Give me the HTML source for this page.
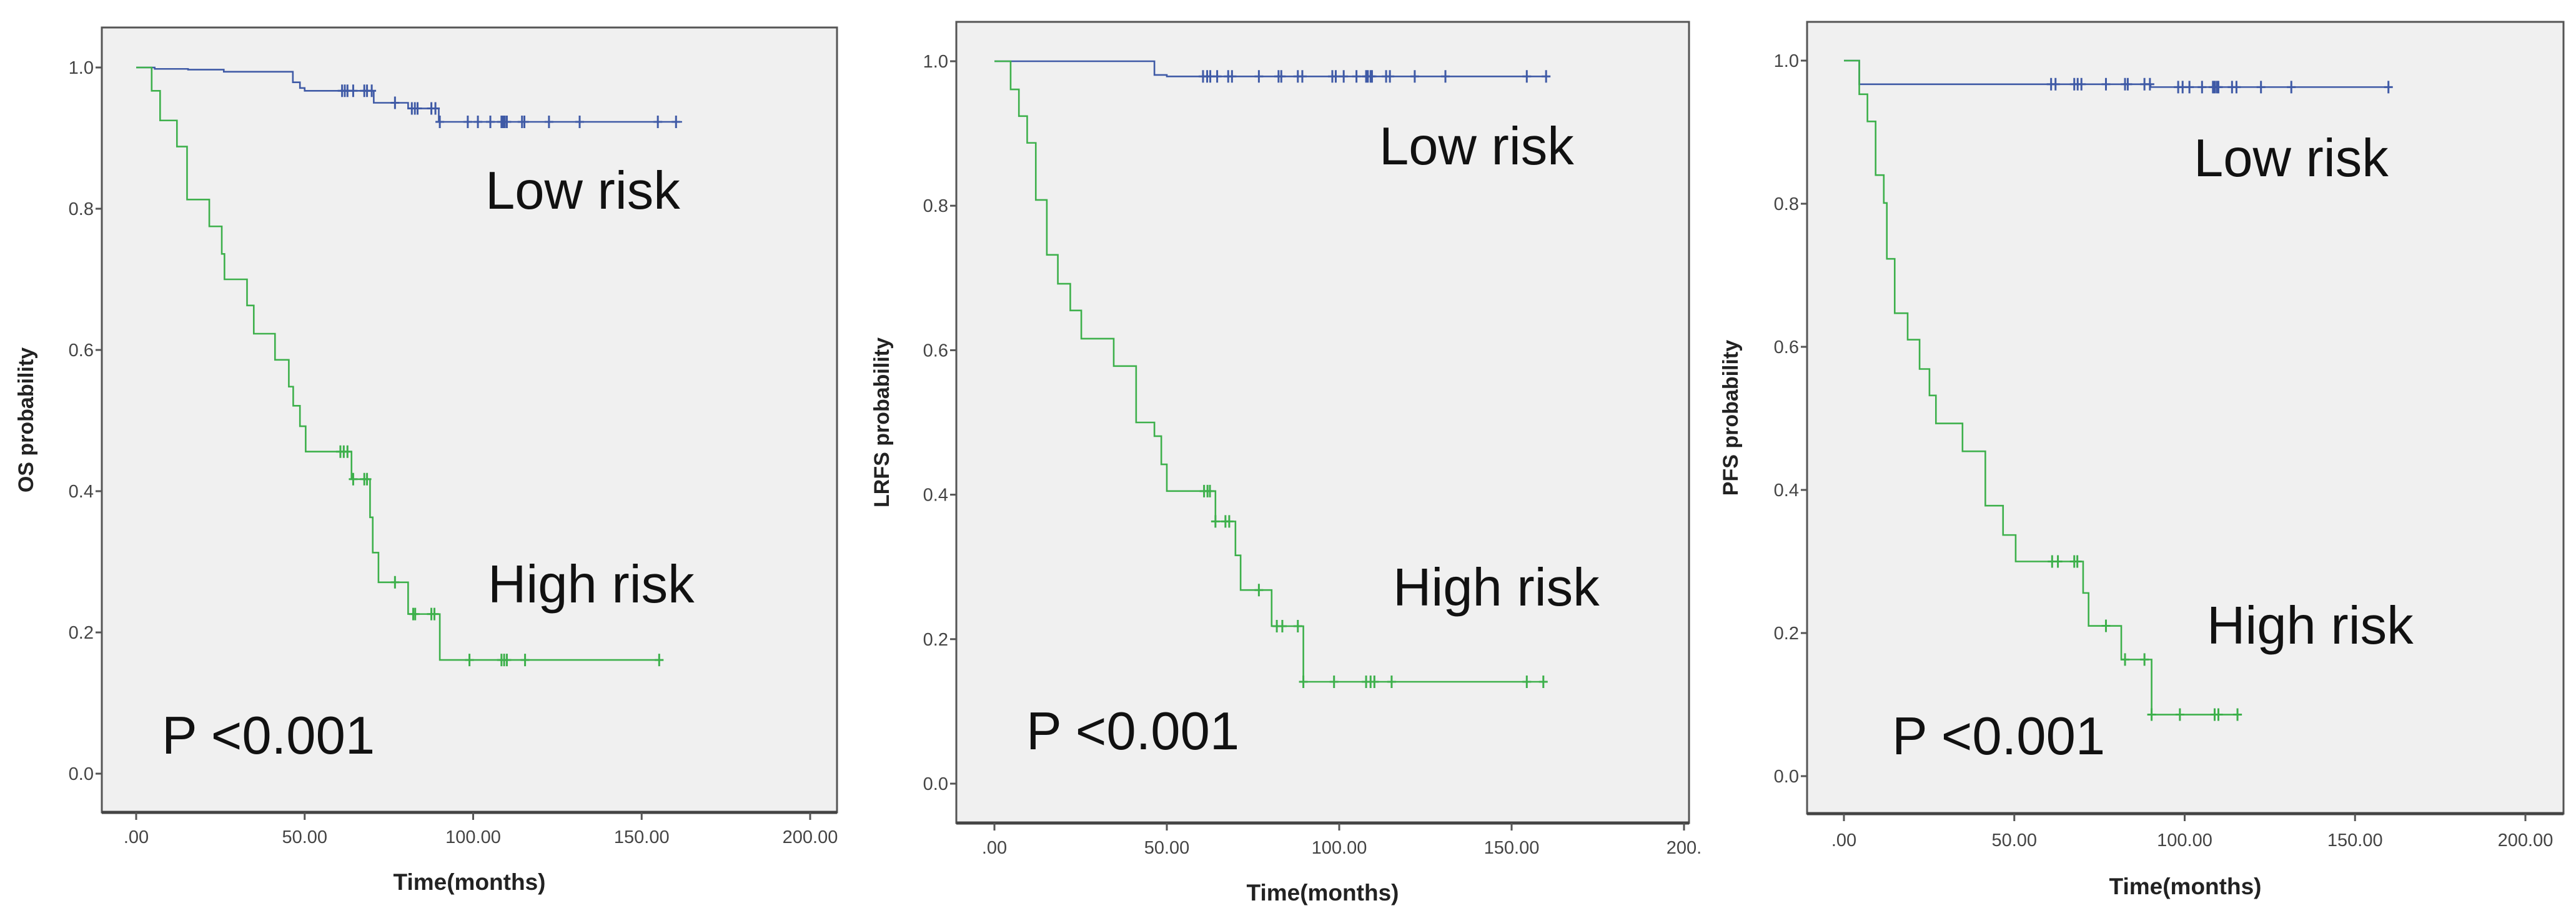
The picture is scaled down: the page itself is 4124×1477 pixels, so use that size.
<!DOCTYPE html>
<html><head><meta charset="utf-8"><style>
html,body{margin:0;padding:0;background:#fff;}
svg{display:block;}
</style></head><body>
<svg id="fig" width="4124" height="1477" viewBox="0 0 4124 1477" xmlns="http://www.w3.org/2000/svg"></svg>
<script>
// ---------- Data ----------
const xTicks = [0, 50, 100, 150, 200];
const xTickLabels = [".00", "50.00", "100.00", "150.00", "200.00"];
const xTickLabelsP2 = [".00", "50.00", "100.00", "150.00", "200."];
const yTicks = [0, 0.2, 0.4, 0.6, 0.8, 1.0];
const yTickLabels = ["0.0", "0.2", "0.4", "0.6", "0.8", "1.0"];

// OS
const osLowT = [0, 5.5, 15.4, 26, 46.5, 48.6, 50, 70.5, 80.7, 89.8, 162];
const osLowS = [1.0, 0.998, 0.997, 0.994, 0.979, 0.971, 0.967, 0.95, 0.942, 0.923, 0.923];
const osLowCens = [61.1,61.9,62.7,64.4,67.7,68.5,69.9,76.8,81.8,82.7,83.5,87.6,88.8,90.1,98.4,101.4,105.1,108.4,108.9,109.4,110.0,114.5,115.2,122.5,131.6,154.8,160.2];
const osHighT = [0, 4.6, 7.1, 12.1, 15.1, 21.7, 25.4, 26.2, 32.9, 34.9, 41.2, 45.3, 46.6, 48.6, 50.3, 63.9, 69.4, 70.2, 71.9, 80.7, 90.1, 155.2];
const osHighS = [1.0, 0.967, 0.925, 0.888, 0.813, 0.775, 0.736, 0.700, 0.663, 0.623, 0.586, 0.548, 0.521, 0.492, 0.456, 0.417, 0.363, 0.313, 0.271, 0.226, 0.161, 0.161];
const osHighCens = [60.6,61.6,62.7,64.4,67.7,68.5,76.8,82.2,82.8,87.6,88.5,98.9,108.4,109.2,110.0,115.4,155.2];

// LRFS
const lrfsLowT = [0, 46.4, 50, 161];
const lrfsLowS = [1.0, 0.981, 0.979, 0.979];
const lrfsLowCens = [60.5,61.7,62.6,64.6,67.8,68.9,76.7,82.4,83.2,88.0,89.3,98.0,99.0,101.3,105.0,107.8,108.3,109.1,109.5,113.6,114.7,121.9,130.8,154.4,160.0];
const lrfsHighT = [0, 4.7, 7.1, 9.5, 12, 15.2, 18.4, 22, 25.2, 34.6, 41.1, 46.4, 48.4, 50, 64.1, 69.9, 71.4, 80.4, 89.6, 160];
const lrfsHighS = [1.0, 0.961, 0.924, 0.887, 0.808, 0.732, 0.692, 0.655, 0.616, 0.578, 0.5, 0.481, 0.442, 0.405, 0.363, 0.316, 0.268, 0.218, 0.141, 0.141];
const lrfsHighCens = [60.8,61.8,62.5,64.1,67,68.1,76.7,81.9,83.5,88,89.6,98.5,107.8,109.1,110.2,115.2,154.4,159.2];

// PFS
const pfsLowT = [0, 4.5, 90, 160.6];
const pfsLowS = [1.0, 0.967, 0.963, 0.963];
const pfsLowCens = [60.8,62.1,67.6,68.6,69.7,76.9,82.5,83.3,88.2,89.8,98.1,99.4,101.4,105.1,108.3,108.8,109.4,109.9,113.9,115.2,122.4,131.3,159.8];
const pfsHighT = [0, 4.5, 6.9, 9.3, 11.7, 12.6, 14.9, 18.7, 22.2, 25.1, 27, 34.8, 41.5, 46.7, 50.4, 70.2, 71.8, 81.4, 90.3, 116.8];
const pfsHighS = [1.0, 0.953, 0.915, 0.840, 0.801, 0.723, 0.647, 0.610, 0.569, 0.532, 0.493, 0.454, 0.378, 0.337, 0.300, 0.256, 0.21, 0.163, 0.086, 0.086];
const pfsHighCens = [61.1,62.8,67.6,68.5,76.9,82.5,88.2,90.3,98.6,108.8,109.9,115.5];

// ---------- Layout ----------
const panels = [
 {name:"os", ylabel:"OS probability", box:[163,44,1340,1300], x0:218, x200:1297, y0:1238, y1:108,
  ytitleX:40, xtitleY:1424, xlabY:1349, xl:xTickLabels, lowPos:[777,334], highPos:[781,964], pPos:[259,1206],
  low:[osLowT,osLowS,osLowCens], high:[osHighT,osHighS,osHighCens]},
 {name:"lrfs", ylabel:"LRFS probability", box:[1531,35,2704,1317], x0:1592, x200:2696, y0:1254, y1:98,
  ytitleX:1410, xtitleY:1441, xlabY:1366, xl:xTickLabelsP2, lowPos:[2208,263], highPos:[2230,969], pPos:[1643,1199],
  low:[lrfsLowT,lrfsLowS,lrfsLowCens], high:[lrfsHighT,lrfsHighS,lrfsHighCens]},
 {name:"pfs", ylabel:"PFS probability", box:[2893,35,4104,1302], x0:2952, x200:4043, y0:1242, y1:97,
  ytitleX:2769, xtitleY:1431, xlabY:1354, xl:xTickLabels, lowPos:[3512,282], highPos:[3533,1030], pPos:[3029,1207],
  low:[pfsLowT,pfsLowS,pfsLowCens], high:[pfsHighT,pfsHighS,pfsHighCens]}
];

const NS = "http://www.w3.org/2000/svg";
const svg = document.getElementById("fig");
function mk(tag, attrs, parent){
  const e = document.createElementNS(NS, tag);
  for (const k in attrs) e.setAttribute(k, attrs[k]);
  (parent||svg).appendChild(e);
  return e;
}
function stepValue(T, S, t){
  let v = S[0];
  for (let i=0;i<T.length;i++){ if (T[i] <= t) v = S[i]; }
  return v;
}

panels.forEach(p => {
  const xs = t => p.x0 + (p.x200 - p.x0) * t / 200;
  const ys = s => p.y0 - (p.y0 - p.y1) * s;
  const g = mk("g", {});
  
  
  const [L,T,R,B] = p.box;
  const bg = mk("rect", {x:L, y:T, width:R-L, height:B-T, fill:"#f0f0f0", stroke:"#555", "stroke-width":3}, g);
  
  
  mk("line", {x1:L, x2:R, y1:B, y2:B, stroke:"#444", "stroke-width":5}, g);

  yTicks.forEach((v,i) => {
    const y = ys(v);
    mk("line", {x1:L-10, x2:L, y1:y, y2:y, stroke:"#555", "stroke-width":3}, g);
    const tx = mk("text", {x:L-13, y:y+10, "text-anchor":"end", "font-family":"Liberation Sans, sans-serif", "font-size":29, fill:"#444"}, g);
    tx.textContent = yTickLabels[i];
    
    
  });
  xTicks.forEach((v,i) => {
    const x = xs(v);
    mk("line", {x1:x, x2:x, y1:B, y2:B+12, stroke:"#555", "stroke-width":3}, g);
    const tx = mk("text", {x:x, y:p.xlabY, "text-anchor":"middle", "font-family":"Liberation Sans, sans-serif", "font-size":29, fill:"#444"}, g);
    tx.textContent = p.xl[i];
    
    
  });
  const xt = mk("text", {x:(L+R)/2, y:p.xtitleY, "text-anchor":"middle", "font-family":"Liberation Sans, sans-serif", "font-size":37, "font-weight":"bold", fill:"#222"}, g);
  xt.textContent = "Time(months)";
  
  
  const cy = (T+B)/2;
  const yt = mk("text", {x:p.ytitleX+13, y:cy, "text-anchor":"middle", "font-family":"Liberation Sans, sans-serif", "font-size":34, "font-weight":"bold", fill:"#222", transform:`rotate(-90 ${p.ytitleX+13} ${cy})`}, g);
  yt.textContent = p.ylabel;
  
  

  [["low", "#3f5aa6"], ["high", "#3db04b"]].forEach(([key, col]) => {
    const [Ts, Ss, C] = p[key];
    let d = `M${xs(Ts[0])},${ys(Ss[0])}`;
    for (let i=1;i<Ts.length;i++){
      d += ` H${xs(Ts[i])} V${ys(Ss[i])}`;
    }
    const path = mk("path", {d:d, fill:"none", stroke:col, "stroke-width":2.6}, g);
    
    
    C.forEach(t => {
      const x = xs(t), y = ys(stepValue(Ts, Ss, t));
      const c = mk("path", {d:`M${x},${y-10} V${y+10} M${x-7},${y} H${x+7}`, stroke:col, "stroke-width":3, fill:"none"}, g);
      
      
    });
  });

  const ann = [["Low risk", p.lowPos, 'low-risk-label'], ["High risk", p.highPos, 'high-risk-label'], ["P <0.001", p.pPos, 'p-value-label']];
  ann.forEach(([txt, pos, nm]) => {
    const a = mk("text", {x:pos[0], y:pos[1], "font-family":"Liberation Sans, sans-serif", "font-size":85, fill:"#111"}, g);
    a.textContent = txt;
    
    
  });
});
</script>
</body></html>
